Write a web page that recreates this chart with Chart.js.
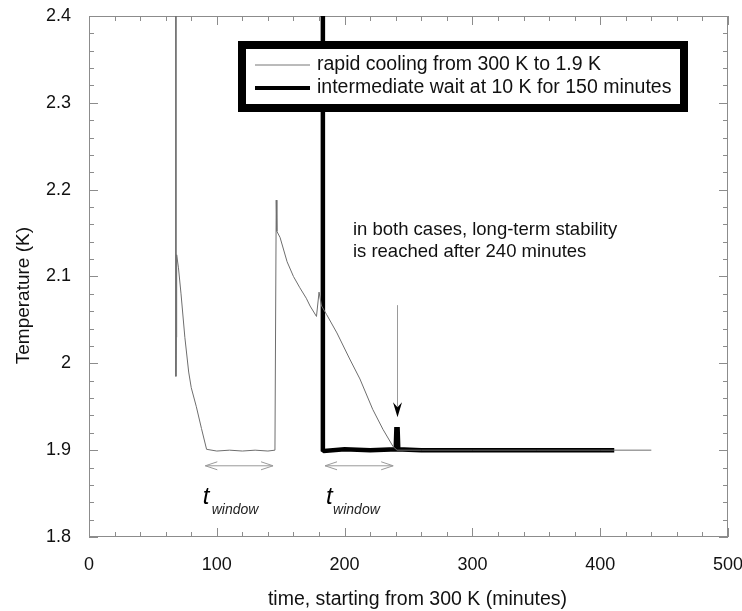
<!DOCTYPE html>
<html>
<head>
<meta charset="utf-8">
<script src="https://cdn.jsdelivr.net/npm/chart.js@4.4.1/dist/chart.umd.min.js"></script>
<style>
  html, body { margin: 0; padding: 0; background: #fff; }
  #wrap { width: 742px; height: 611px; position: relative; }
</style>
</head>
<body>
<div id="wrap"><canvas id="c"></canvas></div>
<script>
// rapid cooling from 300 K to 1.9 K (thin line)
const thinTime = [68, 68, 68.3, 68.6, 70, 72, 75, 78, 80, 84, 88, 92, 100, 110, 120, 130, 140, 145.5,
  146.5, 147, 149.5, 155, 160, 165, 170, 173, 178, 180, 182, 186, 194, 204, 212, 222, 230, 238, 241,
  260, 300, 350, 400, 440];
const thinTemp = [2.6, 1.985, 2.03, 2.125, 2.11, 2.08, 2.03, 1.99, 1.972, 1.95, 1.925, 1.901, 1.899, 1.9, 1.899, 1.9, 1.899, 1.9,
  2.188, 2.152, 2.145, 2.117, 2.1, 2.087, 2.075, 2.066, 2.054, 2.082, 2.066, 2.056, 2.035, 2.005, 1.982, 1.947, 1.924, 1.904, 1.9,
  1.9, 1.9, 1.9, 1.9, 1.9];

// intermediate wait at 10 K for 150 minutes (thick line)
const thickTime = [183, 183, 184, 200, 220, 240, 240.5, 241.5, 242, 260, 300, 350, 411];
const thickTemp = [2.6, 1.9, 1.899, 1.901, 1.9, 1.901, 1.924, 1.924, 1.901, 1.9, 1.9, 1.9, 1.9];

const xTicks = [0, 100, 200, 300, 400, 500];
const yTicks = [1.8, 1.9, 2, 2.1, 2.2, 2.3, 2.4];
const legendLabels = ['rapid cooling from 300 K to 1.9 K', 'intermediate wait at 10 K for 150 minutes'];

const FONT = '"Liberation Sans", Arial, sans-serif';

function pts(xs, ys) { return xs.map((x, i) => ({x: x, y: ys[i]})); }

function arrowHead(ctx, x, y, dir, len, half) {
  ctx.beginPath();
  ctx.moveTo(x - dir * len, y - half);
  ctx.lineTo(x, y);
  ctx.lineTo(x - dir * len, y + half);
  ctx.stroke();
}

const framePlugin = {
  id: 'frame',
  beforeDatasetsDraw(chart) {
    const {ctx, chartArea: a, scales: {x, y}} = chart;
    ctx.save();
    ctx.strokeStyle = '#8c8c8c';
    ctx.lineWidth = 1;
    ctx.strokeRect(a.left + 0.5, a.top + 0.5, a.right - a.left - 1, a.bottom - a.top - 1);
    ctx.beginPath();
    for (let v = 0; v <= 500; v += 20) {
      const px = Math.round(x.getPixelForValue(v)) + 0.5;
      const len = v % 100 === 0 ? 9 : 5;
      ctx.moveTo(px, a.bottom); ctx.lineTo(px, a.bottom - len);
      ctx.moveTo(px, a.top); ctx.lineTo(px, a.top + len);
    }
    for (let k = 0; k <= 30; k++) {
      const v = 1.8 + k * 0.02;
      const py = Math.round(y.getPixelForValue(v)) + 0.5;
      const len = k % 5 === 0 ? 9 : 5;
      ctx.moveTo(a.left, py); ctx.lineTo(a.left + len, py);
      ctx.moveTo(a.right, py); ctx.lineTo(a.right - len, py);
    }
    ctx.stroke();

    // axis titles, drawn by hand (both sit a little off the axis middle)
    ctx.fillStyle = '#111';
    ctx.textAlign = 'center';
    ctx.textBaseline = 'middle';
    ctx.font = '19.5px ' + FONT;
    ctx.fillText('time, starting from 300 K (minutes)', x.getPixelForValue(257), 600);
    ctx.save();
    ctx.translate(24, y.getPixelForValue(2.078));
    ctx.rotate(-Math.PI / 2);
    ctx.font = '19px ' + FONT;
    ctx.fillText('Temperature (K)', 0, 0);
    ctx.restore();
    ctx.restore();
  },
  afterDatasetsDraw(chart) {
    const {ctx, chartArea: a, scales: {x, y}} = chart;
    ctx.save();

    // t_window double arrows
    ctx.strokeStyle = '#9a9a9a';
    ctx.lineWidth = 1;
    [[91, 144], [184.7, 238]].forEach(([t0, t1]) => {
      const x0 = x.getPixelForValue(t0), x1 = x.getPixelForValue(t1);
      const py = y.getPixelForValue(1.882);
      ctx.beginPath(); ctx.moveTo(x0, py); ctx.lineTo(x1, py); ctx.stroke();
      arrowHead(ctx, x0, py, -1, 12, 4);
      arrowHead(ctx, x1, py, 1, 12, 4);
    });

    // t_window labels
    ctx.textBaseline = 'alphabetic';
    ctx.textAlign = 'left';
    [[89, 96], [185.5, 191]].forEach(([tt, tw]) => {
      ctx.font = 'italic 24px ' + FONT;
      ctx.fillStyle = '#000';
      ctx.fillText('t', x.getPixelForValue(tt), y.getPixelForValue(1.8385));
      ctx.font = 'italic 14px ' + FONT;
      ctx.fillStyle = '#222';
      ctx.fillText('window', x.getPixelForValue(tw), y.getPixelForValue(1.8262));
    });

    // stability note + arrow
    ctx.font = '18.5px ' + FONT;
    ctx.textBaseline = 'middle';
    ctx.fillStyle = '#111';
    ctx.fillText('in both cases, long-term stability', x.getPixelForValue(206.5), y.getPixelForValue(2.154));
    ctx.fillText('is reached after 240 minutes', x.getPixelForValue(206.5), y.getPixelForValue(2.128));
    const ax = Math.round(x.getPixelForValue(241)) + 0.5;
    ctx.strokeStyle = '#9a9a9a';
    ctx.lineWidth = 1;
    ctx.beginPath();
    ctx.moveTo(ax, y.getPixelForValue(2.067));
    ctx.lineTo(ax, y.getPixelForValue(1.95));
    ctx.stroke();
    const tipY = y.getPixelForValue(1.938);
    ctx.fillStyle = '#000';
    ctx.beginPath();
    ctx.moveTo(ax, tipY);
    ctx.lineTo(ax - 4.5, tipY - 15);
    ctx.lineTo(ax, tipY - 10);
    ctx.lineTo(ax + 4.5, tipY - 15);
    ctx.closePath();
    ctx.fill();

    // legend box
    const lx = a.left + 149, ly = a.top + 25, lw = 450, lh = 71;
    ctx.fillStyle = '#fff';
    ctx.fillRect(lx, ly, lw, lh);
    ctx.strokeStyle = '#000';
    ctx.lineWidth = 8;
    ctx.strokeRect(lx + 4, ly + 4, lw - 8, lh - 8);
    const rows = [
      {y: ly + 24, w: 1, c: '#777'},
      {y: ly + 47, w: 4, c: '#000'}
    ];
    ctx.font = '19.5px ' + FONT;
    ctx.textBaseline = 'middle';
    rows.forEach((r, i) => {
      ctx.strokeStyle = r.c;
      ctx.lineWidth = r.w;
      ctx.beginPath();
      ctx.moveTo(lx + 17, r.y);
      ctx.lineTo(lx + 72, r.y);
      ctx.stroke();
      ctx.fillStyle = '#111';
      ctx.fillText(legendLabels[i], lx + 79, r.y);
    });
    ctx.restore();
  }
};

const ctx = document.getElementById('c').getContext('2d');
new Chart(ctx, {
  type: 'line',
  data: {
    datasets: [
      {
        label: legendLabels[0],
        data: pts(thinTime, thinTemp),
        borderColor: '#6e6e6e',
        borderWidth: 1,
        pointRadius: 0,
        tension: 0
      },
      {
        label: legendLabels[1],
        data: pts(thickTime, thickTemp),
        borderColor: '#000',
        borderWidth: 4.5,
        pointRadius: 0,
        tension: 0
      }
    ]
  },
  options: {
    responsive: true,
    maintainAspectRatio: false,
    animation: false,
    layout: { padding: { left: 0, top: 16, right: 14, bottom: 0 } },
    plugins: { legend: { display: false }, tooltip: { enabled: false } },
    scales: {
      x: {
        type: 'linear',
        min: 0, max: 500,
        afterBuildTicks: s => { s.ticks = xTicks.map(v => ({value: v})); },
        afterFit: s => { s.height = 74; s.paddingLeft = 0; s.paddingRight = 0; },
        grid: { display: false, drawTicks: false },
        border: { display: false },
        ticks: { color: '#111', font: { family: FONT, size: 18 }, padding: 17, maxRotation: 0 }
      },
      y: {
        min: 1.8, max: 2.4,
        afterBuildTicks: s => { s.ticks = yTicks.map(v => ({value: v})); },
        afterFit: s => { s.width = 89; s.paddingTop = 0; s.paddingBottom = 0; },
        grid: { display: false, drawTicks: false },
        border: { display: false },
        ticks: { color: '#111', font: { family: FONT, size: 18 }, padding: 18,
                 callback: v => String(Math.round(v * 10) / 10) }
      }
    }
  },
  plugins: [framePlugin]
});
</script>
</body>
</html>
